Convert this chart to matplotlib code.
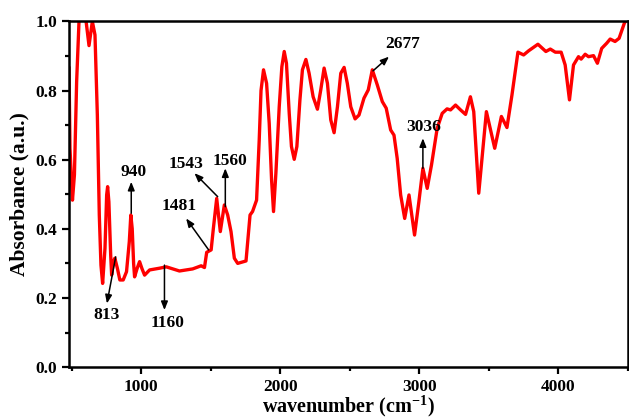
import matplotlib
matplotlib.use("Agg")
import matplotlib.pyplot as plt
from matplotlib.ticker import MultipleLocator, FormatStrFormatter

# FTIR spectrum
wavenumber = [480, 487, 505, 519, 535, 552, 575, 600, 624, 648, 667, 684, 698,
              710, 722, 739, 751, 758, 767, 780, 787, 799, 810, 828, 846, 870,
              894, 914, 925, 935, 945, 952, 970, 988, 1005, 1024, 1060, 1131,
              1180, 1275, 1370, 1431, 1455, 1471, 1503, 1519, 1543, 1569, 1598,
              1622, 1646, 1670, 1694, 1754, 1783, 1801, 1830, 1849, 1862, 1880,
              1902, 1921, 1938, 1952, 1969, 1993, 2012, 2029, 2045, 2065, 2081,
              2101, 2120, 2142, 2160, 2185, 2208, 2237, 2268, 2292, 2316, 2340,
              2364, 2388, 2412, 2436, 2460, 2483, 2508, 2539, 2567, 2603, 2634,
              2663, 2699, 2735, 2763, 2795, 2819, 2842, 2867, 2896, 2927, 2967,
              2998, 3027, 3058, 3089, 3130, 3166, 3201, 3226, 3262, 3298, 3334,
              3369, 3393, 3429, 3484, 3544, 3592, 3632, 3668, 3711, 3752, 3788,
              3855, 3912, 3944, 3980, 4022, 4051, 4082, 4111, 4147, 4166, 4195,
              4219, 4255, 4283, 4314, 4350, 4375, 4410, 4439, 4477, 4500]
absorbance = [0.865, 0.633, 0.483, 0.556, 0.826, 1.0, 1.04, 1.01, 0.93, 1.0,
              0.961, 0.729, 0.44, 0.295, 0.242, 0.344, 0.498, 0.522, 0.478,
              0.324, 0.266, 0.305, 0.315, 0.286, 0.252, 0.252, 0.276, 0.363,
              0.44, 0.40, 0.30, 0.261, 0.285, 0.305, 0.285, 0.266, 0.281, 0.286,
              0.29, 0.278, 0.284, 0.293, 0.288, 0.332, 0.339, 0.401, 0.488, 0.392,
              0.469, 0.44, 0.392, 0.315, 0.30, 0.307, 0.44, 0.45, 0.483, 0.657,
              0.80, 0.86, 0.821, 0.705, 0.541, 0.45, 0.561, 0.753, 0.869, 0.913,
              0.879, 0.734, 0.638, 0.601, 0.638, 0.773, 0.86, 0.89, 0.85, 0.782,
              0.746, 0.802, 0.865, 0.821, 0.715, 0.678, 0.753, 0.85, 0.867, 0.821,
              0.753, 0.718, 0.729, 0.778, 0.802, 0.86, 0.816, 0.768, 0.749, 0.686,
              0.671, 0.604, 0.498, 0.43, 0.498, 0.382, 0.478, 0.575, 0.517, 0.585,
              0.691, 0.734, 0.747, 0.744, 0.758, 0.744, 0.731, 0.782, 0.739,
              0.503, 0.739, 0.633, 0.725, 0.693, 0.787, 0.911, 0.903, 0.915,
              0.934, 0.913, 0.92, 0.911, 0.911, 0.874, 0.773, 0.874, 0.898, 0.891,
              0.905, 0.898, 0.901, 0.879, 0.922, 0.937, 0.949, 0.942, 0.951,
              0.995, 1.01]

# peak labels: text, text position, arrow tail (on curve), arrow head
peak_labels = ["813", "940", "1160", "1481", "1543", "1560", "2677", "3036"]
label_xy = [(749, 0.15), (943, 0.565), (1189, 0.127), (1275, 0.466),
            (1323, 0.588), (1638, 0.597), (2883, 0.934), (3034, 0.694)]
arrow_tail = [(816, 0.319), (928, 0.445), (1167, 0.295), (1485, 0.339),
              (1550, 0.493), (1605, 0.464), (2668, 0.857), (3027, 0.575)]
arrow_head = [(753, 0.184), (928, 0.536), (1167, 0.165), (1323, 0.43),
              (1383, 0.561), (1605, 0.575), (2783, 0.898), (3027, 0.662)]

plt.rcParams['font.family'] = ['Liberation Serif', 'DejaVu Serif']
plt.rcParams['font.weight'] = 'bold'
plt.rcParams['mathtext.fontset'] = 'custom'
plt.rcParams['mathtext.bf'] = 'Liberation Serif:bold'
plt.rcParams['mathtext.rm'] = 'Liberation Serif:bold'

fig = plt.figure(figsize=(6.29, 4.20), dpi=100)
ax = fig.add_axes([0.1097, 0.126, 0.888, 0.823])

ax.plot(wavenumber, absorbance, color='#ff0000', lw=2.4, solid_joinstyle='round')

for txt, xy, t, h in zip(peak_labels, label_xy, arrow_tail, arrow_head):
    ax.annotate('', xy=h, xytext=t,
                arrowprops=dict(arrowstyle='-|>,head_length=0.5,head_width=0.2',
                                color='black', lw=1.1, shrinkA=0, shrinkB=0))
    ax.text(xy[0], xy[1], txt, ha='center', va='center', fontsize=12.5,
            fontweight='bold')

ax.set_xlim(480, 4500)
ax.set_ylim(0, 1.0)
ax.xaxis.set_major_locator(MultipleLocator(1000))
ax.xaxis.set_minor_locator(MultipleLocator(500))
ax.yaxis.set_major_locator(MultipleLocator(0.2))
ax.yaxis.set_minor_locator(MultipleLocator(0.1))
ax.yaxis.set_major_formatter(FormatStrFormatter('%.1f'))

for s in ax.spines.values():
    s.set_linewidth(1.8)
ax.tick_params(which='major', direction='out', length=5, width=1.6, labelsize=12.5)
ax.tick_params(which='minor', direction='out', length=3, width=1.6)
for lab in ax.get_xticklabels() + ax.get_yticklabels():
    lab.set_fontweight('bold')

ax.set_xlabel('wavenumber (cm$^{-1}$)', fontsize=14.5, fontweight='bold',
              labelpad=-1)
ax.set_ylabel('Absorbance (a.u.)', fontsize=15.5, fontweight='bold', labelpad=4)

fig.savefig('out.png', dpi=100)
